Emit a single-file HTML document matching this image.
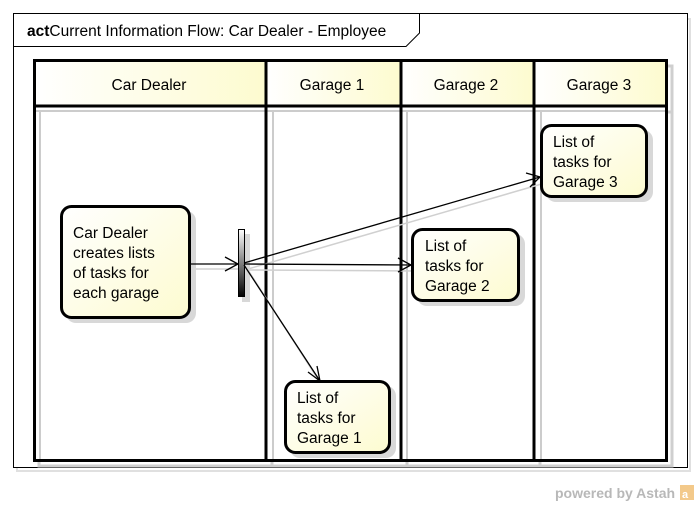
<!DOCTYPE html>
<html><head><style>
html,body{margin:0;padding:0;background:#fff;}
svg{display:block;font-family:"Liberation Sans",Arial,sans-serif;}
</style></head><body>
<svg width="700" height="506" viewBox="0 0 700 506" xmlns="http://www.w3.org/2000/svg">
<defs>
<linearGradient id="hg" x1="0" y1="0" x2="1" y2="0">
<stop offset="0" stop-color="#ffffff"/><stop offset="1" stop-color="#fdfbcf"/>
</linearGradient>
<linearGradient id="ng" x1="0" y1="0" x2="1" y2="1">
<stop offset="0" stop-color="#ffffff"/><stop offset="1" stop-color="#fdfbd0"/>
</linearGradient>
<linearGradient id="fg" x1="0" y1="0" x2="0" y2="1">
<stop offset="0" stop-color="#ffffff"/><stop offset="1" stop-color="#000000"/>
</linearGradient>
</defs>
<rect x="17" y="19" width="673" height="452" fill="none" stroke="#e0e0e0" stroke-width="2"/>
<rect x="13.5" y="13.5" width="674" height="454" fill="#fff" stroke="#000" stroke-width="1"/>
<path d="M13.5 46.5 H406 L419.5 33 V13.5" fill="none" stroke="#000" stroke-width="1"/>
<text x="27" y="36" font-size="15.5"><tspan font-weight="bold">act</tspan><tspan>Current Information Flow: Car Dealer - Employee</tspan></text>

<g stroke="#cfcfcf" stroke-width="3" fill="none">
<rect x="39" y="66" width="633" height="400"/>
<line x1="272" y1="66" x2="272" y2="466"/>
<line x1="407" y1="66" x2="407" y2="466"/>
<line x1="540" y1="66" x2="540" y2="466"/>
<line x1="39" y1="112" x2="672" y2="112"/>
</g>
<rect x="35" y="61" width="231" height="45" fill="url(#hg)"/>
<rect x="266" y="61" width="135" height="45" fill="url(#hg)"/>
<rect x="401" y="61" width="133" height="45" fill="url(#hg)"/>
<rect x="534" y="61" width="132" height="45" fill="url(#hg)"/>
<rect x="35" y="106" width="631" height="354" fill="#fff"/>
<g stroke="#ccc" stroke-width="2" fill="none">
<line x1="40" y1="111" x2="40" y2="461"/>
<line x1="273" y1="111" x2="273" y2="461"/>
<line x1="407" y1="111" x2="407" y2="461"/>
<line x1="541" y1="111" x2="541" y2="461"/>
<line x1="36" y1="111" x2="666" y2="111"/>
</g>
<g stroke="#000" stroke-width="3" fill="none">
<rect x="34.5" y="60.5" width="632" height="400"/>
<line x1="34" y1="106" x2="667" y2="106"/>
<line x1="266" y1="60" x2="266" y2="461"/>
<line x1="401" y1="60" x2="401" y2="461"/>
<line x1="534" y1="60" x2="534" y2="461"/>
</g>
<g font-size="15.5" text-anchor="middle">
<text x="149" y="90">Car Dealer</text>
<text x="332" y="90">Garage 1</text>
<text x="466" y="90">Garage 2</text>
<text x="599" y="90">Garage 3</text>
</g>

<g stroke="#d0d0d0" stroke-width="1.5" fill="none">
<line x1="192" y1="269" x2="240" y2="269"/>
<line x1="248" y1="269" x2="545" y2="183"/>
<line x1="248" y1="270" x2="416" y2="271"/>
<line x1="248" y1="270" x2="323" y2="387"/>
</g>
<g fill="#d8d8d8">
<rect x="66" y="211" width="130" height="112" rx="10"/>
<rect x="417" y="234" width="108" height="72" rx="10"/>
<rect x="546" y="130" width="107" height="72" rx="10"/>
<rect x="290" y="386" width="106" height="72" rx="10"/>
<rect x="242" y="234" width="8" height="68"/>
</g>
<g stroke="#000" stroke-width="3" fill="url(#ng)">
<rect x="61.5" y="206.5" width="128" height="111" rx="10"/>
<rect x="412.5" y="229.5" width="106" height="71" rx="10"/>
<rect x="541.5" y="125.5" width="105" height="71" rx="10"/>
<rect x="285.5" y="381.5" width="104" height="71" rx="10"/>
</g>
<rect x="238.5" y="229.5" width="6" height="67" fill="url(#fg)" stroke="#000" stroke-width="1"/>
<g font-size="15.5">
<text><tspan x="73" y="238">Car Dealer</tspan><tspan x="73" y="258">creates lists</tspan><tspan x="73" y="278">of tasks for</tspan><tspan x="73" y="298">each garage</tspan></text>
<text><tspan x="425" y="251">List of</tspan><tspan x="425" y="271">tasks for</tspan><tspan x="425" y="291">Garage 2</tspan></text>
<text><tspan x="553" y="147">List of</tspan><tspan x="553" y="167">tasks for</tspan><tspan x="553" y="187">Garage 3</tspan></text>
<text><tspan x="297" y="403">List of</tspan><tspan x="297" y="423">tasks for</tspan><tspan x="297" y="443">Garage 1</tspan></text>
</g>
<g stroke="#000" stroke-width="1.3" fill="none">
<line x1="190" y1="264" x2="238" y2="264"/>
<polyline points="225,257 238,264 225,271"/>
<line x1="244" y1="263" x2="540" y2="177"/>
<polyline points="526,173 540,177 530,187"/>
<line x1="244" y1="264" x2="411" y2="265"/>
<polyline points="398,258 411,265 398,272"/>
<line x1="244" y1="265" x2="320" y2="381"/>
<polyline points="308,372 320,381 317,366"/>
</g>
<text x="555" y="498" font-size="14" font-weight="bold" fill="#b8b8b8">powered by Astah</text>
<rect x="680" y="485" width="14" height="15" fill="#f3c98a"/>
<text x="682" y="498" font-size="11" fill="#fff" font-weight="bold">a</text>
</svg>
</body></html>
